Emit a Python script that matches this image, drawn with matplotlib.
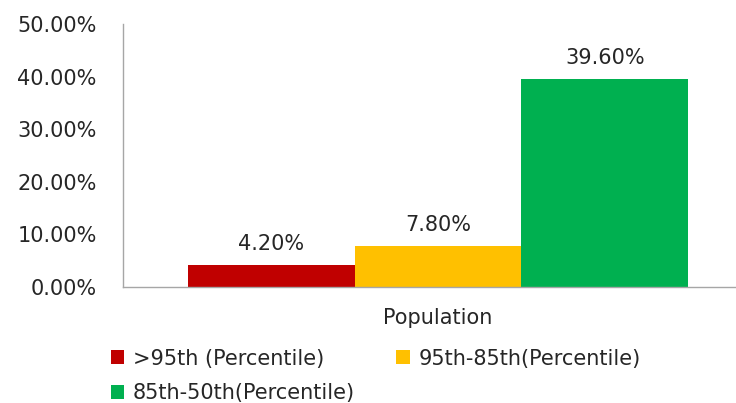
import matplotlib.pyplot as plt
from matplotlib.ticker import PercentFormatter

category = "Population"
series = [">95th (Percentile)", "95th-85th(Percentile)", "85th-50th(Percentile)"]
values = [4.20, 7.80, 39.60]
colors = ["#C00000", "#FFC000", "#00B050"]
yticks = [0, 10, 20, 30, 40, 50]

plt.rcParams["font.family"] = ["DejaVu Sans"]
FS = 15

fig = plt.figure(figsize=(7.36, 4.03), dpi=100)
W, H = 736, 403
# plot area runs past the right edge of the figure
ax = fig.add_axes([123 / W, 1 - 287 / H, (753 - 123) / W, (287 - 24) / H])

bw = 0.265
offsets = [-bw, 0, bw]
bars = []
for name, v, c, off in zip(series, values, colors, offsets):
    b = ax.bar(off, v, width=bw, color=c, label=name)
    bars.append(b)
    ax.text(off, v + 2.0, f"{v:.2f}%", ha="center", va="bottom",
            fontsize=FS, color="#262626")

ax.set_xlim(-0.5, 0.5)
ax.set_ylim(0, 50)
ax.set_yticks(yticks)
ax.yaxis.set_major_formatter(PercentFormatter(decimals=2))
ax.set_xticks([0])
ax.set_xticklabels([category])
ax.tick_params(axis="both", length=0, labelsize=FS, colors="#262626")
ax.tick_params(axis="y", pad=19)
ax.tick_params(axis="x", pad=15)
for s in ["top", "right"]:
    ax.spines[s].set_visible(False)
for s in ["left", "bottom"]:
    ax.spines[s].set_color("#A6A6A6")
    ax.spines[s].set_linewidth(1.0)

# order so the legend fills row by row
order = [0, 2, 1]
fig.legend([bars[i] for i in order], [series[i] for i in order],
           loc="upper left", bbox_to_anchor=(92 / W, 1 - 330 / H),
           ncol=2, frameon=False, fontsize=FS, handlelength=0.65,
           handleheight=0.65, handletextpad=0.4, columnspacing=2.0,
           labelspacing=0.7, labelcolor="#262626")

fig.savefig("out.png", dpi=100)
